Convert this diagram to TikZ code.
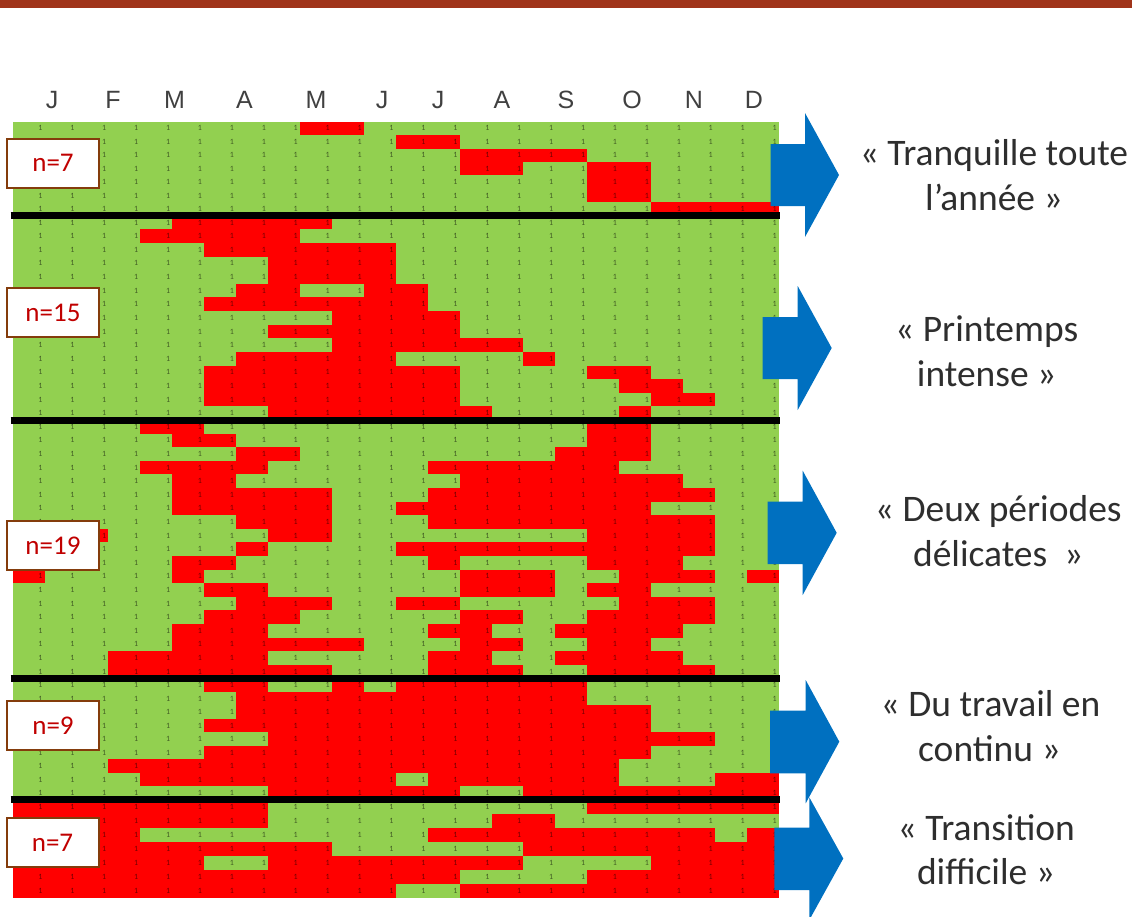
\documentclass[tikz,border=0pt]{standalone}
\usepackage{fontspec}
\setmainfont{Carlito}
\newfontfamily\monthfont{Liberation Sans}
\definecolor{cgreen}{HTML}{92D050}
\definecolor{cred}{HTML}{FF0000}
\definecolor{cblue}{HTML}{0070C0}
\definecolor{cbar}{HTML}{A0341A}
\definecolor{cboxline}{HTML}{843C0C}
\definecolor{cboxtext}{HTML}{C00000}
\definecolor{ctext}{HTML}{2E2E2E}
\definecolor{cmonth}{HTML}{404040}
\tikzset{
  redcell/.style={fill=cred},
  digit/.style={font=\fontsize{8}{8}\selectfont, text=black, text opacity=0.55, inner sep=0pt, anchor=east},
  sepline/.style={draw=black, line width=7pt},
  nbox/.style={draw=cboxline, line width=2pt, fill=white, minimum width=92pt, minimum height=49pt, inner sep=0pt, text=cboxtext, font=\fontsize{27}{27}\selectfont},
  monthlbl/.style={font=\monthfont\fontsize{25}{25}\selectfont, text=cmonth, anchor=base, inner sep=0pt},
  grouplbl/.style={font=\fontsize{37.5}{37.5}\selectfont, text=ctext, anchor=base, inner sep=0pt},
  bigarrow/.style={fill=cblue}
}
\newcommand\cellgroup[5]{%
  \pgfmathsetmacro\myrh{(#2-#1)/#3}%
  \foreach \rowspec [count=\ri from 0] in {#4} {%
    \foreach \ca/\cb in \rowspec {%
      \fill[redcell] ({12.7+31.92*\ca},{#1+\ri*\myrh}) rectangle ({12.7+31.92*(\cb+1)},{#1+(\ri+1)*\myrh});
    }%
    \foreach \cc in {0,...,23} {%
      \node[digit] (d#5-\ri-\cc) at ({12.7+31.92*(\cc+1)-2},{#1+(\ri+0.5)*\myrh}) {1};
    }%
  }%
}
\begin{document}
\begin{tikzpicture}[x=1pt,y=-1pt]
\useasboundingbox (0,0) rectangle (1132,916);
% top bar
\fill[cbar] (0,0) rectangle (1132,7.5);
% grid background
\fill[cgreen] (12.7,121.7) rectangle (778.7,898);
% groups
\cellgroup{121.7}{215.7}{7}{{9/10},{12/13},{14/17},{14/15,18/19},{18/19},{18/19},{20/23}}{a}
\cellgroup{215.7}{420}{15}{{5/9},{4/8},{6/11},{8/11},{8/11},{7/8,11/12},{6/12},{10/13},{8/13},{10/15},{7/11,16/16},{6/13,18/19},{6/13,19/20},{6/13,20/21},{8/14,19/19}}{b}
\cellgroup{420}{678.3}{19}{{4/5,18/19},{5/6,18/19},{7/8,17/19},{4/7,13/18},{5/6,14/20},{5/9,13/21},{5/9,12/19},{7/9,13/21},{2/2,8/9,18/21},{7/7,12/21},{5/6,13/13,18/20},{0/0,5/5,14/16,19/21,23/23},{6/7,14/16,18/19},{7/9,12/13,19/21},{6/8,14/15,18/21},{5/7,13/14,17/20},{5/10,14/15,18/19},{3/7,13/14,17/20},{3/9,13/15,18/21}}{c}
\cellgroup{678.3}{799.7}{9}{{6/7,10/10,12/17},{7/17},{7/19},{6/19},{8/21},{6/19},{3/18},{4/11,13/18,22/23},{8/13,16/23}}{d}
\cellgroup{799.7}{898}{7}{{0/7,18/23},{0/7,15/16},{0/3,13/21,23/23},{0/9,16/23},{0/5,8/15,20/23},{0/13,18/23},{0/11,14/23}}{e}
% separators
\draw[sepline] (10.5,215.7) -- (780,215.7);
\draw[sepline] (10.5,420) -- (780,420);
\draw[sepline] (10.5,678.3) -- (780,678.3);
\draw[sepline] (10.5,799.7) -- (780,799.7);
% month labels
\node[monthlbl] (m1) at (52,108) {J};
\node[monthlbl] (m2) at (113,108) {F};
\node[monthlbl] (m3) at (174.5,108) {M};
\node[monthlbl] (m4) at (244.5,108) {A};
\node[monthlbl] (m5) at (316,108) {M};
\node[monthlbl] (m6) at (382,108) {J};
\node[monthlbl] (m7) at (438,108) {J};
\node[monthlbl] (m8) at (502,108) {A};
\node[monthlbl] (m9) at (566,108) {S};
\node[monthlbl] (m10) at (632,108) {O};
\node[monthlbl] (m11) at (694,108) {N};
\node[monthlbl] (m12) at (754,108) {D};
% n boxes
\node[nbox] (n1) at (53,163) {n=7};
\node[nbox] (n2) at (53,312.5) {n=15};
\node[nbox] (n3) at (53,545.5) {n=19};
\node[nbox] (n4) at (53,725.5) {n=9};
\node[nbox] (n5) at (52.5,842.5) {n=7};
% arrows
\fill[bigarrow] (770.7,144) -- (805,144) -- (805,113) -- (839,175) -- (805,237) -- (805,206) -- (770.7,206) -- cycle;
\fill[bigarrow] (762.7,317) -- (797.7,317) -- (797.7,286) -- (831.7,348) -- (797.7,410) -- (797.7,379) -- (762.7,379) -- cycle;
\fill[bigarrow] (767.7,501.7) -- (802.7,501.7) -- (802.7,470.7) -- (836.7,532.8) -- (802.7,595) -- (802.7,564) -- (767.7,564) -- cycle;
\fill[bigarrow] (770,710.7) -- (805.7,710.7) -- (805.7,680) -- (839.3,741.7) -- (805.7,803.3) -- (805.7,773.3) -- (770,773.3) -- cycle;
\fill[bigarrow] (774.3,827.7) -- (809.3,827.7) -- (809.3,797.3) -- (843.3,858.5) -- (809.3,920) -- (809.3,890) -- (774.3,890) -- cycle;
% group labels
\node[grouplbl] (t1a) at (994,165.7) {« Tranquille toute};
\node[grouplbl] (t1b) at (994,210) {l’année »};
\node[grouplbl] (t2a) at (986.7,341.7) {« Printemps};
\node[grouplbl] (t2b) at (986.7,386.7) {intense »};
\node[grouplbl] (t3a) at (998.3,521.7) {« Deux périodes};
\node[grouplbl] (t3b) at (998.3,566.7) {délicates~~»};
\node[grouplbl] (t4a) at (990.5,716.7) {« Du travail en};
\node[grouplbl] (t4b) at (989.5,761.7) {continu »};
\node[grouplbl] (t5a) at (986.3,840) {« Transition};
\node[grouplbl] (t5b) at (986,884) {difficile »};
\end{tikzpicture}
\end{document}
